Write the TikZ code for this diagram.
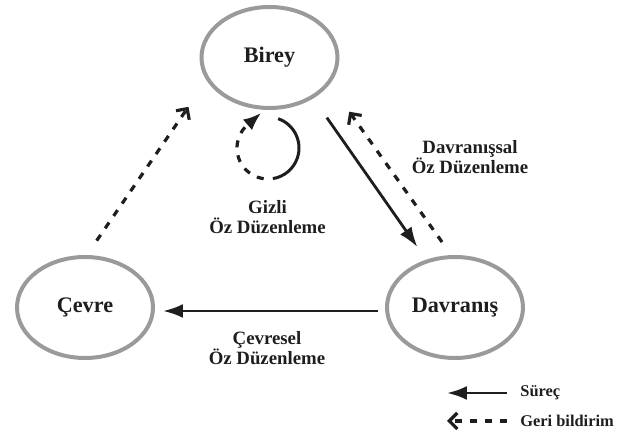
\documentclass[tikz,border=0pt]{standalone}
\usepackage{fontspec}
\setmainfont{Liberation Serif}
\usetikzlibrary{arrows.meta, shapes.geometric}
\definecolor{ringgray}{HTML}{9A9A9A}
\definecolor{inkblack}{HTML}{1E1E1E}
\tikzset{
  agent/.style={ellipse, draw=ringgray, line width=2pt, inner sep=0pt,
    minimum width=68pt, minimum height=50.5pt, text=inkblack,
    font=\fontsize{11.1}{13}\selectfont\bfseries},
  proc/.style={line width=1.4pt, draw=inkblack, -{Latex[length=10pt,width=7pt]}},
  fback/.style={line width=1.6pt, draw=inkblack, dash pattern=on 3.5pt off 4pt,
    -{Straight Barb[length=4pt,width=8pt]}},
  caption/.style={align=center, inner sep=0pt, text=inkblack,
    font=\fontsize{9.4}{10}\selectfont\bfseries},
  legend/.style={anchor=west, inner sep=0pt, text=inkblack,
    font=\fontsize{8.2}{10}\selectfont\bfseries}
}
\begin{document}
\begin{tikzpicture}[x=0.5pt, y=0.5pt]
\useasboundingbox (0,0) rectangle (618,-437);
\node[agent] (birey) at (269.5,-57.5) {Birey};
\node[agent] (cevre) at (85,-307.5) {Çevre};
\node[agent] (davranis) at (455,-307.5) {Davranış};
\draw[proc, shorten <=11.75pt, shorten >=7.7pt] (birey.-43.5) -- (davranis.121);
\draw[fback, shorten <=8pt, shorten >=16.85pt] (davranis.94) -- (birey.-24.7);
\draw[fback, shorten <=8.7pt, shorten >=16pt] (cevre.88) -- (birey.200);
\draw[proc, shorten <=3.5pt, shorten >=4pt] ([yshift=-1.75pt]davranis.west) -- ([yshift=-1.75pt]cevre.east);
\coordinate (loop) at (268,-148);
\draw[line width=1.5pt, inkblack] ([shift={(71:15.5pt)}]loop) arc[start angle=71, end angle=-81, radius=15.5pt];
\draw[fback, -{Latex[length=9pt,width=7pt]}] ([shift={(-98:15.5pt)}]loop) arc[start angle=-98, end angle=-225, radius=15.5pt] -- ++(41:10pt);
\node[caption] (lblgizli) at (267.5,-217) {Gizli\\Öz Düzenleme};
\node[caption] (lbldavr) at (470,-157) {Davranışsal\\Öz Düzenleme};
\node[caption] (lblcevre) at (267,-348) {Çevresel\\Öz Düzenleme};
\node[legend] (surec) at (520,-393) {Süreç};
\node[legend] (geri) at (520,-421) {Geri bildirim};
\coordinate (surecend) at (447,-393);
\coordinate (geriend) at (447,-421);
\draw[proc] ([xshift=-6.5pt]surec.west) -- (surecend);
\draw[fback] ([xshift=-6.5pt]geri.west) -- (geriend);
\end{tikzpicture}
\end{document}
